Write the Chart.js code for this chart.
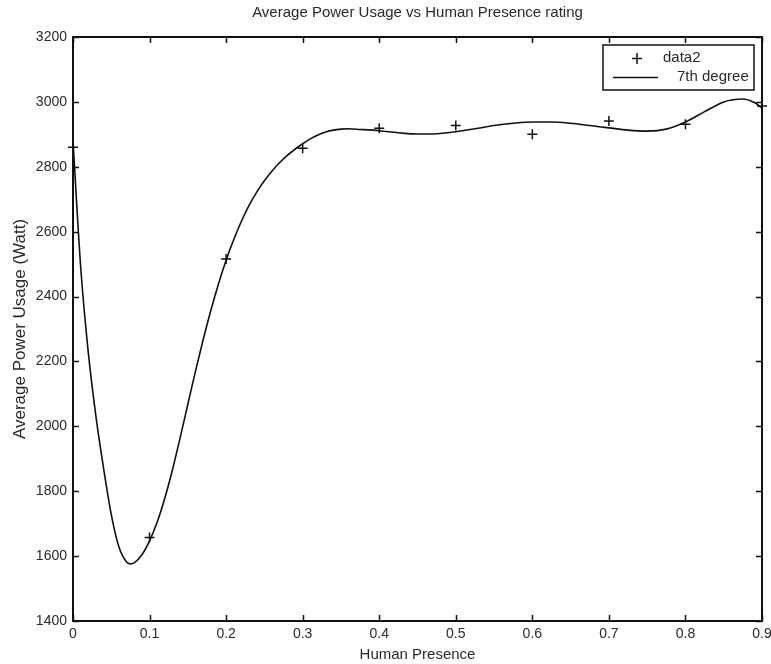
<!DOCTYPE html>
<html>
<head>
<meta charset="utf-8">
<script src="https://cdn.jsdelivr.net/npm/chart.js@4.4.1/dist/chart.umd.min.js"></script>
<style>
html,body{margin:0;padding:0;background:#fff;}
#wrap{width:771px;height:664px;}
</style>
</head>
<body>
<div id="wrap"><canvas id="c" width="771" height="664"></canvas></div>
<script>
// ---- data ----
const presence = [0, 0.1, 0.2, 0.3, 0.4, 0.5, 0.6, 0.7, 0.8, 0.9];
const powerUsage = [2860, 1657, 2516, 2857, 2919, 2927, 2900, 2941, 2931, 2987];

// points read along the drawn "7th degree" curve
const fitX = [0, 0.01, 0.02, 0.03, 0.04, 0.05, 0.06, 0.07, 0.075, 0.08,
  0.09, 0.10, 0.11, 0.12, 0.13, 0.14, 0.15, 0.16, 0.17, 0.18,
  0.19, 0.20, 0.21, 0.22, 0.23, 0.24, 0.25, 0.26, 0.27, 0.28,
  0.29, 0.30, 0.31, 0.32, 0.33, 0.34, 0.35, 0.36, 0.375, 0.4,
  0.425, 0.45, 0.475, 0.5, 0.525, 0.55, 0.575, 0.6, 0.625, 0.65,
  0.675, 0.7, 0.725, 0.75, 0.775, 0.8, 0.825, 0.85, 0.86, 0.875,
  0.89, 0.9];
const fitY = [2880, 2492, 2227, 2030, 1870, 1728, 1628, 1582, 1576, 1579,
  1604, 1647, 1705, 1779, 1867, 1965, 2068, 2170, 2267, 2357,
  2439, 2512, 2576, 2632, 2681, 2722, 2757, 2787, 2813, 2835,
  2854, 2871, 2886, 2898, 2907, 2913, 2916, 2917, 2915, 2911,
  2905, 2901, 2902, 2908, 2917, 2927, 2934, 2938, 2938, 2934,
  2927, 2920, 2913, 2910, 2916, 2938, 2970, 3000, 3006, 3009,
  2998, 2981];

const seriesLabels = ['data2', '7th degree'];
const chartTitle = 'Average Power Usage vs Human Presence rating';
const xTitle = 'Human Presence';
const yTitle = 'Average Power Usage (Watt)';

const FONT = "'Liberation Sans', Arial, Helvetica, sans-serif";
const TXT = '#2a2a2a';

// frame + inward ticks (MATLAB box style) + legend
const framePlugin = {
  id: 'frame',
  afterDraw(chart) {
    const {ctx, chartArea: a, scales: {x, y}} = chart;
    ctx.save();
    ctx.strokeStyle = '#111';
    ctx.lineWidth = 2;
    ctx.strokeRect(a.left, a.top, a.right - a.left, a.bottom - a.top);
    ctx.lineWidth = 1.5;
    const L = 6;
    ctx.beginPath();
    x.ticks.forEach(t => {
      const px = Math.round(x.getPixelForValue(t.value)) + 0.5;
      ctx.moveTo(px, a.bottom); ctx.lineTo(px, a.bottom - L);
      ctx.moveTo(px, a.top); ctx.lineTo(px, a.top + L);
    });
    y.ticks.forEach(t => {
      const py = Math.round(y.getPixelForValue(t.value)) + 0.5;
      ctx.moveTo(a.left, py); ctx.lineTo(a.left + L, py);
      ctx.moveTo(a.right, py); ctx.lineTo(a.right - L, py);
    });
    ctx.stroke();

    // legend box
    const bx = 603, by = 45, bw = 151, bh = 45;
    ctx.fillStyle = '#fff';
    ctx.fillRect(bx, by, bw, bh);
    ctx.strokeStyle = '#111';
    ctx.lineWidth = 1.5;
    ctx.strokeRect(bx, by, bw, bh);
    ctx.beginPath();
    ctx.moveTo(632, 58.5); ctx.lineTo(642, 58.5);
    ctx.moveTo(637, 53); ctx.lineTo(637, 64);
    ctx.stroke();
    ctx.beginPath();
    ctx.moveTo(613, 77.5); ctx.lineTo(658, 77.5);
    ctx.stroke();
    ctx.fillStyle = TXT;
    ctx.font = '15px ' + FONT;
    ctx.textBaseline = 'middle';
    ctx.textAlign = 'left';
    ctx.fillText(chart.data.datasets[0].label, 663, 58);
    ctx.fillText(chart.data.datasets[1].label, 677, 77);
    ctx.restore();
  }
};

new Chart(document.getElementById('c'), {
  type: 'scatter',
  data: {
    datasets: [
      {
        label: seriesLabels[0],
        data: presence.map((v, i) => ({x: v, y: powerUsage[i]})),
        pointStyle: 'cross',
        pointRadius: 5,
        pointBorderWidth: 1.5,
        borderColor: '#111',
        backgroundColor: '#111',
        showLine: false,
        clip: false
      },
      {
        label: seriesLabels[1],
        data: fitX.map((v, i) => ({x: v, y: fitY[i]})),
        showLine: true,
        pointRadius: 0,
        borderColor: '#111',
        borderWidth: 1.6,
        cubicInterpolationMode: 'monotone',
        fill: false
      }
    ]
  },
  options: {
    responsive: false,
    animation: false,
    devicePixelRatio: 1,
    layout: {padding: {left: 0, right: 9, top: 0, bottom: 0}},
    plugins: {
      legend: {display: false},
      tooltip: {enabled: false},
      title: {
        display: true,
        text: chartTitle,
        fullSize: false,
        color: TXT,
        font: {family: FONT, size: 15, weight: 'normal'},
        padding: {top: 4, bottom: 15}
      }
    },
    scales: {
      x: {
        type: 'linear',
        min: 0, max: 0.9,
        ticks: {
          stepSize: 0.1,
          color: TXT,
          padding: 5,
          maxRotation: 0,
          font: {family: FONT, size: 14},
          callback: v => (Math.round(v * 10) / 10).toString()
        },
        grid: {display: false, drawTicks: false},
        border: {display: false},
        title: {
          display: true, text: xTitle, color: TXT,
          font: {family: FONT, size: 15},
          padding: {top: 0, bottom: 0}
        },
        afterFit: s => { s.height = 43; s.paddingLeft = 0; s.paddingRight = 0; }
      },
      y: {
        type: 'linear',
        min: 1400, max: 3200,
        ticks: {
          stepSize: 200,
          color: TXT,
          padding: 6,
          font: {family: FONT, size: 14},
          callback: v => String(v)
        },
        grid: {display: false, drawTicks: false},
        border: {display: false},
        title: {
          display: true, text: yTitle, color: TXT,
          font: {family: FONT, size: 17},
          padding: {top: 10, bottom: 0}
        },
        afterFit: s => { s.width = 73; s.paddingTop = 0; s.paddingBottom = 0; }
      }
    }
  },
  plugins: [framePlugin]
});
</script>
</body>
</html>
